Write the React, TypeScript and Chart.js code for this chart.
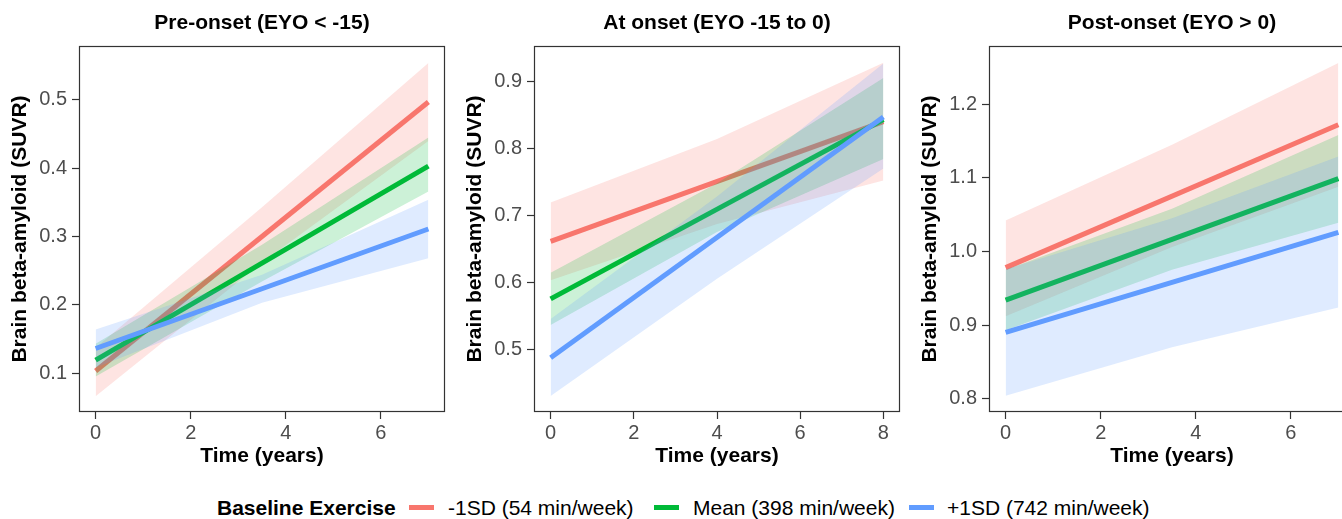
import React, { useEffect, useRef } from "react";
import { Chart, registerables } from "chart.js";

Chart.register(...registerables);

const FONT = "'Liberation Sans', Arial, Helvetica, sans-serif";
Chart.defaults.font.family = FONT;

// ---------- shared ----------
const seriesNames = ["-1SD (54 min/week)", "Mean (398 min/week)", "+1SD (742 min/week)"];
const seriesColors = ["#F8766D", "#00BA38", "#619CFF"];
const bandColors = ["rgba(248,118,109,0.2)", "rgba(0,186,56,0.2)", "rgba(97,156,255,0.2)"];
const legendTitle = "Baseline Exercise";
const xAxisTitle = "Time (years)";
const yAxisTitle = "Brain beta-amyloid (SUVR)";

// ---------- panel 1: Pre-onset ----------
const p1Title = "Pre-onset (EYO < -15)";
const p1XRange = [-0.35, 7.35];
const p1YRange = [0.043, 0.579];
const p1XTicks = [0, 2, 4, 6];
const p1YTicks = [0.1, 0.2, 0.3, 0.4, 0.5];
const p1LineX = [0, 7];
const p1RedLine = [0.103, 0.497];
const p1GreenLine = [0.119, 0.403];
const p1BlueLine = [0.136, 0.311];
const p1BandX = [0, 3.5, 7];
const p1RedUpper = [0.137, 0.343, 0.554];
const p1RedLower = [0.066, 0.262, 0.44];
const p1GreenUpper = [0.143, 0.288, 0.445];
const p1GreenLower = [0.095, 0.234, 0.366];
const p1BlueUpper = [0.164, 0.244, 0.354];
const p1BlueLower = [0.108, 0.203, 0.268];

// ---------- panel 2: At onset ----------
const p2Title = "At onset (EYO -15 to 0)";
const p2XRange = [-0.4, 8.4];
const p2YRange = [0.406, 0.953];
const p2XTicks = [0, 2, 4, 6, 8];
const p2YTicks = [0.5, 0.6, 0.7, 0.8, 0.9];
const p2LineX = [0, 8];
const p2RedLine = [0.661, 0.84];
const p2GreenLine = [0.575, 0.843];
const p2BlueLine = [0.487, 0.847];
const p2BandX = [0, 4, 8];
const p2RedUpper = [0.719, 0.814, 0.928];
const p2RedLower = [0.603, 0.687, 0.752];
const p2GreenUpper = [0.614, 0.748, 0.905];
const p2GreenLower = [0.536, 0.675, 0.784];
const p2BlueUpper = [0.545, 0.728, 0.927];
const p2BlueLower = [0.43, 0.605, 0.77];

// ---------- panel 3: Post-onset ----------
const p3Title = "Post-onset (EYO > 0)";
const p3XRange = [-0.35, 7.35];
const p3YRange = [0.782, 1.279];
const p3XTicks = [0, 2, 4, 6];
const p3YTicks = [0.8, 0.9, 1.0, 1.1, 1.2];
const p3LineX = [0, 7];
const p3RedLine = [0.978, 1.172];
const p3GreenLine = [0.934, 1.099];
const p3BlueLine = [0.89, 1.026];
const p3BandX = [0, 3.5, 7];
const p3RedUpper = [1.042, 1.145, 1.256];
const p3RedLower = [0.912, 1.006, 1.088];
const p3GreenUpper = [0.975, 1.058, 1.158];
const p3GreenLower = [0.893, 0.975, 1.039];
const p3BlueUpper = [0.976, 1.045, 1.129];
const p3BlueLower = [0.804, 0.87, 0.924];

type Panel = {
  title: string;
  xRange: number[];
  yRange: number[];
  xTicks: number[];
  yTicks: number[];
  lineX: number[];
  lines: number[][];
  bandX: number[];
  uppers: number[][];
  lowers: number[][];
};

const panels: Panel[] = [
  {
    title: p1Title, xRange: p1XRange, yRange: p1YRange, xTicks: p1XTicks, yTicks: p1YTicks,
    lineX: p1LineX, lines: [p1RedLine, p1GreenLine, p1BlueLine], bandX: p1BandX,
    uppers: [p1RedUpper, p1GreenUpper, p1BlueUpper], lowers: [p1RedLower, p1GreenLower, p1BlueLower],
  },
  {
    title: p2Title, xRange: p2XRange, yRange: p2YRange, xTicks: p2XTicks, yTicks: p2YTicks,
    lineX: p2LineX, lines: [p2RedLine, p2GreenLine, p2BlueLine], bandX: p2BandX,
    uppers: [p2RedUpper, p2GreenUpper, p2BlueUpper], lowers: [p2RedLower, p2GreenLower, p2BlueLower],
  },
  {
    title: p3Title, xRange: p3XRange, yRange: p3YRange, xTicks: p3XTicks, yTicks: p3YTicks,
    lineX: p3LineX, lines: [p3RedLine, p3GreenLine, p3BlueLine], bandX: p3BandX,
    uppers: [p3RedUpper, p3GreenUpper, p3BlueUpper], lowers: [p3RedLower, p3GreenLower, p3BlueLower],
  },
];

const CANVAS_W = 455;
const CANVAS_H = 480;
const panelLefts = [0, 455, 910];

// legend layout (page pixels)
const legendKeyLefts = [409, 654, 909];
const legendTextLefts = [448, 693, 947];

const panelTitlePlugin = {
  id: "panelTitle",
  afterDraw(chart: any, _args: any, opts: any) {
    const { ctx, chartArea } = chart;
    ctx.save();
    ctx.font = `bold 21px ${FONT}`;
    ctx.fillStyle = "#000000";
    ctx.textAlign = "center";
    ctx.textBaseline = "middle";
    ctx.fillText(opts.text, (chartArea.left + chartArea.right) / 2, 23);
    ctx.restore();
  },
};

const panelBorderPlugin = {
  id: "panelBorder",
  afterDatasetsDraw(chart: any) {
    const { ctx, chartArea } = chart;
    ctx.save();
    ctx.strokeStyle = "#333333";
    ctx.lineWidth = 1.2;
    const l = Math.round(chartArea.left) + 0.5;
    const t = Math.round(chartArea.top) + 0.5;
    const r = Math.round(chartArea.right) - 0.5;
    const b = Math.round(chartArea.bottom) - 0.5;
    ctx.strokeRect(l, t, r - l, b - t);
    ctx.restore();
  },
};

function buildDatasets(p: Panel) {
  const ds: any[] = [];
  for (let i = 0; i < 3; i++) {
    const base = ds.length;
    const order = 30 - i * 10;
    ds.push({
      label: seriesNames[i] + " upper",
      data: p.bandX.map((x, k) => ({ x, y: p.uppers[i][k] })),
      fill: base + 1,
      backgroundColor: bandColors[i],
      borderColor: "rgba(0,0,0,0)",
      borderWidth: 0,
      pointRadius: 0,
      order,
    });
    ds.push({
      label: seriesNames[i] + " lower",
      data: p.bandX.map((x, k) => ({ x, y: p.lowers[i][k] })),
      fill: false,
      borderColor: "rgba(0,0,0,0)",
      borderWidth: 0,
      pointRadius: 0,
      order,
    });
    ds.push({
      label: seriesNames[i],
      data: p.lineX.map((x, k) => ({ x, y: p.lines[i][k] })),
      fill: false,
      borderColor: seriesColors[i],
      borderWidth: 5,
      borderCapStyle: "butt",
      pointRadius: 0,
      tension: 0,
      order: order - 5,
    });
  }
  return ds;
}

function PanelChart({ panel, left }: { panel: Panel; left: number }) {
  const ref = useRef<HTMLCanvasElement | null>(null);
  useEffect(() => {
    if (!ref.current) return;
    const chart = new Chart(ref.current, {
      type: "line",
      data: { datasets: buildDatasets(panel) },
      plugins: [panelTitlePlugin as any, panelBorderPlugin as any],
      options: {
        animation: false,
        responsive: false,
        devicePixelRatio: 1,
        layout: { padding: { top: 46, left: 0, right: 10, bottom: 0 } },
        plugins: {
          legend: { display: false },
          tooltip: { enabled: false },
          title: { display: false },
          panelTitle: { text: panel.title },
        } as any,
        scales: {
          x: {
            type: "linear",
            min: panel.xRange[0],
            max: panel.xRange[1],
            afterBuildTicks: (s: any) => {
              s.ticks = panel.xTicks.map((v) => ({ value: v }));
            },
            afterFit: (s: any) => {
              s.height = 68;
            },
            ticks: {
              color: "#4D4D4D",
              font: { size: 20, family: FONT },
              padding: 2,
              maxRotation: 0,
              autoSkip: false,
              callback: (v: any) => String(v),
            },
            grid: {
              display: true,
              drawOnChartArea: false,
              drawTicks: true,
              tickLength: 7,
              color: "#333333",
              tickColor: "#333333",
              tickWidth: 1.2,
            },
            border: { display: false },
            title: {
              display: true,
              text: xAxisTitle,
              color: "#000000",
              font: { size: 21, weight: "bold", family: FONT },
              padding: { top: 0, bottom: 11 },
            },
          },
          y: {
            type: "linear",
            min: panel.yRange[0],
            max: panel.yRange[1],
            afterBuildTicks: (s: any) => {
              s.ticks = panel.yTicks.map((v) => ({ value: v }));
            },
            afterFit: (s: any) => {
              s.width = 79;
            },
            ticks: {
              color: "#4D4D4D",
              font: { size: 20, family: FONT },
              padding: 5,
              autoSkip: false,
              callback: (v: any) => Number(v).toFixed(1),
            },
            grid: {
              display: true,
              drawOnChartArea: false,
              drawTicks: true,
              tickLength: 7,
              color: "#333333",
              tickColor: "#333333",
              tickWidth: 1.2,
            },
            border: { display: false },
            title: {
              display: true,
              text: yAxisTitle,
              color: "#000000",
              font: { size: 21, weight: "bold", family: FONT },
              padding: { top: 8, bottom: 0 },
            },
          },
        },
      } as any,
    });
    return () => chart.destroy();
  }, [panel]);
  return (
    <canvas
      ref={ref}
      width={CANVAS_W}
      height={CANVAS_H}
      style={{ position: "absolute", left, top: 0, width: CANVAS_W, height: CANVAS_H }}
    />
  );
}

export default function App() {
  const rowStyle: React.CSSProperties = {
    position: "absolute",
    top: 496,
    height: 24,
    lineHeight: "24px",
    fontFamily: FONT,
    fontSize: 21,
    color: "#000000",
    whiteSpace: "nowrap",
  };
  return (
    <div
      style={{
        position: "absolute",
        left: 0,
        top: 0,
        width: 1342,
        height: 519,
        overflow: "hidden",
        background: "#ffffff",
      }}
    >
      {panels.map((p, i) => (
        <PanelChart key={i} panel={p} left={panelLefts[i]} />
      ))}
      <div style={{ ...rowStyle, left: 217, fontWeight: "bold", fontSize: 21 }}>{legendTitle}</div>
      {seriesNames.map((n, i) => (
        <React.Fragment key={n}>
          <div
            style={{
              position: "absolute",
              left: legendKeyLefts[i],
              top: 505,
              width: 25,
              height: 5,
              background: seriesColors[i],
            }}
          />
          <div style={{ ...rowStyle, left: legendTextLefts[i] }}>{n}</div>
        </React.Fragment>
      ))}
    </div>
  );
}
